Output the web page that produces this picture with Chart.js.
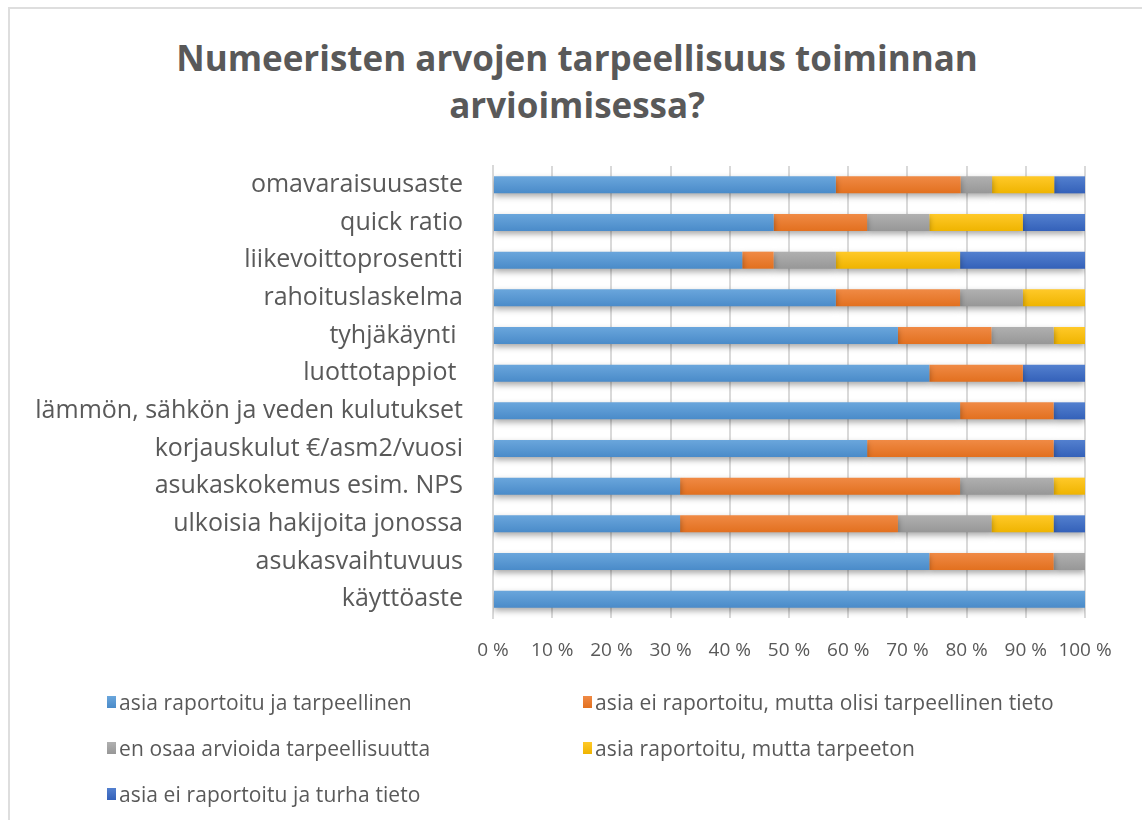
<!DOCTYPE html>
<html>
<head>
<meta charset="utf-8">
<script src="https://cdn.jsdelivr.net/npm/chart.js@4.4.0/dist/chart.umd.min.js"></script>
<style>
  body { margin: 0; background: #fff; font-family: "Open Sans", sans-serif; }
  #frame { position: absolute; left: 8px; top: 7px; width: 1150px; height: 830px; border: 2px solid #dedede; box-sizing: border-box; }
  #title { position: absolute; left: 0; top: 34px; width: 1154px; text-align: center; font-weight: bold; font-size: 35px; line-height: 47px; color: #595959; }
  #wrap { position: absolute; left: 0; top: 0; width: 1142px; height: 680px; }
  #legend { position: absolute; left: 107px; top: 679px; display: grid; grid-template-columns: 476px auto; grid-auto-rows: 46px; }
  .item { display: flex; align-items: center; font-size: 21px; color: #595959; letter-spacing: 0.1px; }
  .box { width: 9px; height: 12px; margin-right: 3px; }
</style>
</head>
<body>
<div id="frame"></div>
<div id="title">Numeeristen arvojen tarpeellisuus toiminnan<br>arvioimisessa?</div>
<div id="wrap"><canvas id="chart" width="1142" height="680"></canvas></div>
<div id="legend"></div>
<script>
// categories top to bottom
const categories = [
  'omavaraisuusaste', 'quick ratio', 'liikevoittoprosentti', 'rahoituslaskelma',
  'tyhjäkäynti ', 'luottotappiot ', 'lämmön, sähkön ja veden kulutukset',
  'korjauskulut €/asm2/vuosi', 'asukaskokemus esim. NPS', 'ulkoisia hakijoita jonossa',
  'asukasvaihtuvuus', 'käyttöaste'
];

const seriesNames = [
  'asia raportoitu ja tarpeellinen',
  'asia ei raportoitu, mutta olisi tarpeellinen tieto',
  'en osaa arvioida tarpeellisuutta',
  'asia raportoitu, mutta tarpeeton',
  'asia ei raportoitu ja turha tieto'
];

// shares in percent
const reportedNeeded    = [57.9, 47.4, 42.1, 57.9, 68.4, 73.7, 78.9, 63.2, 31.6, 31.6, 73.7, 100];
const notReportedNeeded = [21.1, 15.8, 5.3, 21.0, 15.8, 15.8, 15.8, 31.5, 47.3, 36.8, 21.0, 0];
const cannotSay         = [5.3, 10.5, 10.5, 10.6, 10.5, 0, 0, 0, 15.8, 15.8, 5.3, 0];
const reportedUseless   = [10.5, 15.8, 21.0, 10.5, 5.3, 0, 0, 0, 5.3, 10.5, 0, 0];
const notReportedUseless= [5.2, 10.5, 21.1, 0, 0, 10.5, 5.3, 5.3, 0, 5.3, 0, 0];

const xTicks = [0, 10, 20, 30, 40, 50, 60, 70, 80, 90, 100];

const colors = [
  ['#6aa6dc', '#4a8bc9'],
  ['#f08a45', '#e2701f'],
  ['#b0b0b0', '#979797'],
  ['#ffc929', '#efb400'],
  ['#5380cf', '#3461b9']
];

const allSeries = [reportedNeeded, notReportedNeeded, cannotSay, reportedUseless, notReportedUseless];
const barSize = 17;

function barFill(pair) {
  return function (ctx) {
    const chart = ctx.chart;
    const yScale = chart.scales.y;
    if (!yScale || ctx.dataIndex === undefined) return pair[1];
    const cy = yScale.getPixelForValue(ctx.dataIndex);
    if (!isFinite(cy)) return pair[1];
    const g = chart.ctx.createLinearGradient(0, cy - barSize / 2, 0, cy + barSize / 2);
    g.addColorStop(0, pair[0]);
    g.addColorStop(1, pair[1]);
    return g;
  };
}

const shadow = {
  id: 'shadow',
  beforeDatasetsDraw(chart) {
    const c = chart.ctx;
    c.save();
    c.shadowColor = 'rgba(0,0,0,0.35)';
    c.shadowBlur = 6;
    c.shadowOffsetY = 3;
  },
  afterDatasetsDraw(chart) {
    chart.ctx.restore();
  }
};

const chart = new Chart(document.getElementById('chart'), {
  type: 'bar',
  data: {
    labels: categories,
    datasets: allSeries.map((vals, i) => ({
      label: seriesNames[i],
      data: vals,
      backgroundColor: barFill(colors[i]),
      borderWidth: 0,
      categoryPercentage: 1,
      barPercentage: barSize / 37.6
    }))
  },
  plugins: [shadow],
  options: {
    indexAxis: 'y',
    responsive: false,
    animation: false,
    layout: { padding: { left: 0, right: 57, top: 166, bottom: 0 } },
    plugins: {
      legend: { display: false },
      tooltip: { enabled: false },
      title: { display: false }
    },
    scales: {
      x: {
        stacked: true,
        min: 0,
        max: 100,
        afterBuildTicks(scale) { scale.ticks = xTicks.map(v => ({ value: v })); },
        afterFit(scale) { scale.height = 62; },
        grid: { color: '#d9d9d9', lineWidth: 2, drawTicks: false },
        border: { display: false },
        ticks: {
          padding: 21,
          color: '#595959',
          font: { family: 'Open Sans', size: 19 },
          maxRotation: 0,
          autoSkip: false,
          callback: v => v + ' %'
        }
      },
      y: {
        stacked: true,
        afterFit(scale) { scale.width = 493; },
        grid: { display: false, drawTicks: false },
        border: { display: true, color: '#d9d9d9', width: 2 },
        ticks: {
          padding: 30,
          color: '#595959',
          font: { family: 'Open Sans', size: 25 }
        }
      }
    }
  }
});

// legend in two columns like the original
const legend = document.getElementById('legend');
chart.data.datasets.forEach((ds, i) => {
  const item = document.createElement('div');
  item.className = 'item';
  const box = document.createElement('span');
  box.className = 'box';
  box.style.background = 'linear-gradient(' + colors[i][0] + ',' + colors[i][1] + ')';
  item.appendChild(box);
  item.appendChild(document.createTextNode(ds.label));
  legend.appendChild(item);
});
</script>
</body>
</html>
